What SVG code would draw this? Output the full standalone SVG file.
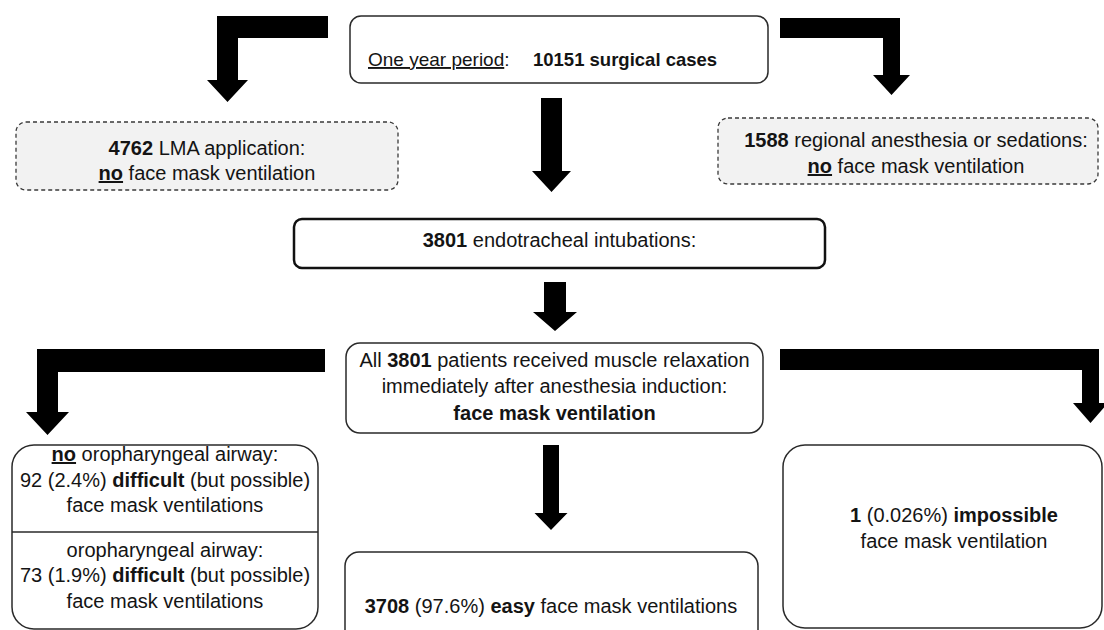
<svg xmlns="http://www.w3.org/2000/svg" width="1104" height="630" viewBox="0 0 1104 630">
<style>
text{font-family:"Liberation Sans",Arial,sans-serif;font-size:20px;fill:#141414;text-anchor:middle}
.b{font-weight:bold}
.u{text-decoration:underline}
.box{fill:#fff;stroke:#2a2a2a;stroke-width:1.5}
.dash{fill:#f2f2f2;stroke:#3a3a3a;stroke-width:1.3;stroke-dasharray:4 3}
.arrow{fill:#000}
</style>
<rect width="1104" height="630" fill="#fff"/>
<g id="connectors">
<path class="arrow" d="M328,16 L217,16 L217,80 L207,80 L227.5,102 L248,80 L238,80 L238,38 L328,38 Z"/>
<path class="arrow" d="M780,18 L900,18 L900,75 L910,75 L891.5,95 L873,75 L883,75 L883,38 L780,38 Z"/>
<path class="arrow" d="M541,98 L562,98 L562,171 L571,171 L551.5,192 L532,171 L541,171 Z"/>
<path class="arrow" d="M544,282 L566,282 L566,312 L577,312 L555,331 L533,312 L544,312 Z"/>
<path class="arrow" d="M325,349 L37,349 L37,412 L26,412 L47.5,435 L69,412 L58,412 L58,372 L325,372 Z"/>
<path class="arrow" d="M780,349 L1099,349 L1099,403 L1108,403 L1090.5,423 L1073,403 L1082,403 L1082,370 L780,370 Z"/>
<path class="arrow" d="M543,445 L559,445 L559,513 L567.5,513 L551,530 L534.5,513 L543,513 Z"/>
</g>
<g id="node-start">
<rect class="box" x="350" y="16" width="418" height="67" rx="11"/>
<text x="368" y="66" style="text-anchor:start;font-size:19px"><tspan class="u">One year period</tspan>:</text>
<text x="533" y="66" class="b" style="text-anchor:start;font-size:18.5px">10151 surgical cases</text>
</g>
<g id="node-lma">
<rect class="dash" x="16" y="122" width="382" height="68" rx="10"/>
<text x="207" y="155"><tspan class="b">4762</tspan> LMA application:</text>
<text x="207" y="180"><tspan class="b u">no</tspan> face mask ventilation</text>
</g>
<g id="node-regional">
<rect class="dash" x="718" y="118" width="380" height="66" rx="10"/>
<text x="916" y="147"><tspan class="b">1588</tspan> regional anesthesia or sedations:</text>
<text x="916" y="173"><tspan class="b u">no</tspan> face mask ventilation</text>
</g>
<g id="node-intubations">
<rect x="294" y="219" width="531" height="49" rx="8" fill="#fff" stroke="#111" stroke-width="2.5"/>
<text x="559.5" y="247"><tspan class="b">3801</tspan> endotracheal intubations:</text>
</g>
<g id="node-relaxation">
<rect class="box" x="346" y="343" width="417" height="90" rx="14"/>
<text x="554.5" y="367">All <tspan class="b">3801</tspan> patients received muscle relaxation</text>
<text x="554.5" y="393">immediately after anesthesia induction:</text>
<text x="554.5" y="420" class="b">face mask ventilation</text>
</g>
<g id="node-difficult">
<rect class="box" x="12" y="445" width="306" height="184" rx="22"/>
<line x1="12" y1="532" x2="318" y2="532" stroke="#2a2a2a" stroke-width="1.3"/>
<text x="165" y="461"><tspan class="b u">no</tspan> oropharyngeal airway:</text>
<text x="165" y="487">92 (2.4%) <tspan class="b">difficult</tspan> (but possible)</text>
<text x="165" y="512">face mask ventilations</text>
<text x="165" y="557">oropharyngeal airway:</text>
<text x="165" y="582">73 (1.9%) <tspan class="b">difficult</tspan> (but possible)</text>
<text x="165" y="608">face mask ventilations</text>
</g>
<g id="node-easy">
<rect class="box" x="345" y="552" width="413" height="100" rx="14"/>
<text x="551" y="613"><tspan class="b">3708</tspan> (97.6%) <tspan class="b">easy</tspan> face mask ventilations</text>
</g>
<g id="node-impossible">
<rect class="box" x="783" y="445" width="319" height="183" rx="22"/>
<text x="954" y="522"><tspan class="b">1</tspan> (0.026%) <tspan class="b">impossible</tspan></text>
<text x="954" y="548">face mask ventilation</text>
</g>
</svg>
